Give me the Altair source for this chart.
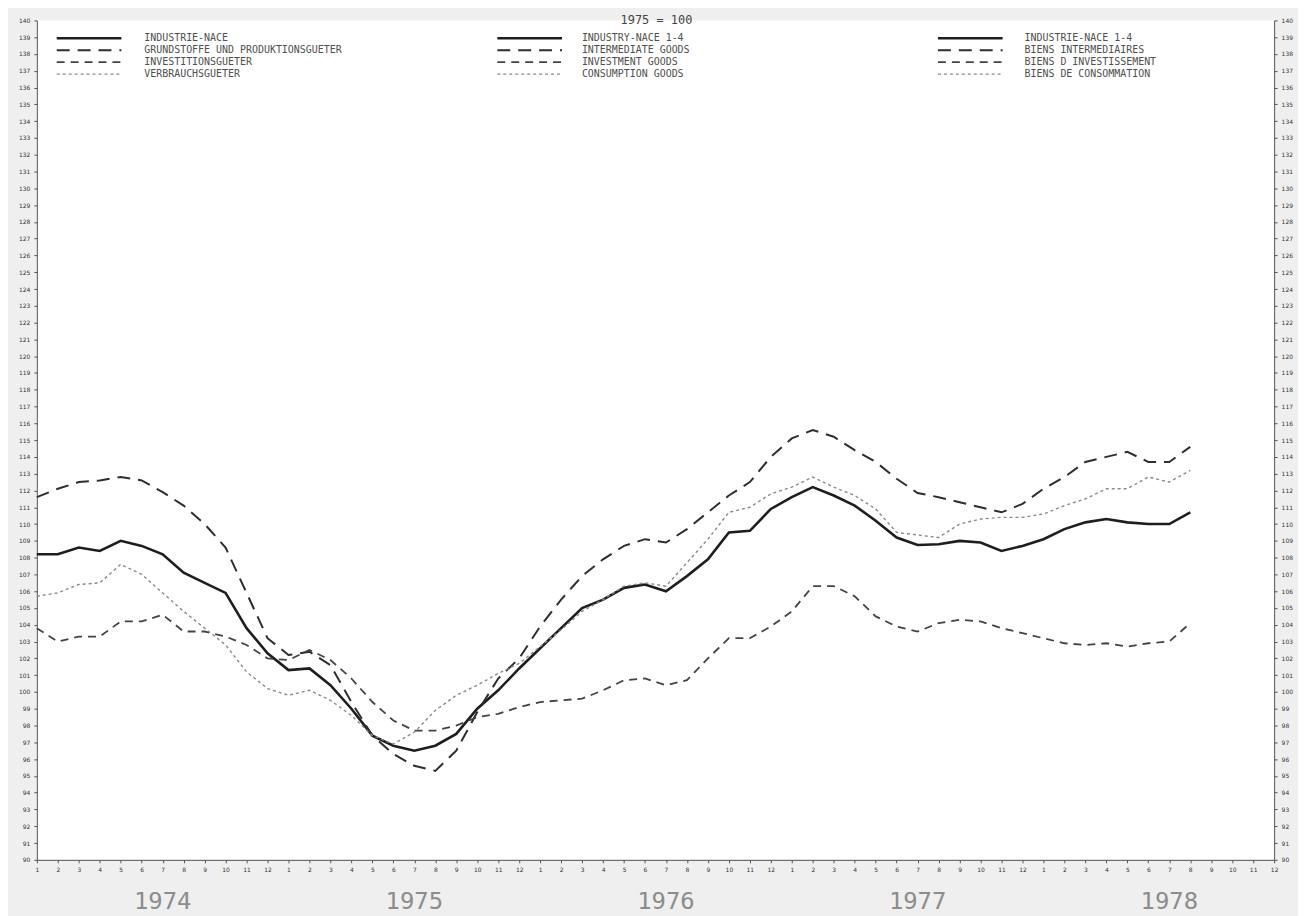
import altair as alt
import pandas as pd

# ---- data (monthly index, 1975 = 100), Jan 1974 .. Aug 1978 ----
years = ["1974", "1975", "1976", "1977", "1978"]
month_labels = [str(m) for m in range(1, 13)]

industry = [108.2, 108.2, 108.6, 108.4, 109.0, 108.7, 108.2, 107.1, 106.5, 105.9, 103.8, 102.3,
            101.3, 101.4, 100.4, 99.0, 97.4, 96.8, 96.5, 96.8, 97.5, 99.0, 100.1, 101.4,
            102.6, 103.8, 105.0, 105.5, 106.2, 106.4, 106.0, 106.9, 107.9, 109.5, 109.6, 110.9,
            111.6, 112.2, 111.7, 111.1, 110.2, 109.2, 108.75, 108.8, 109.0, 108.9, 108.4, 108.7,
            109.1, 109.7, 110.1, 110.3, 110.1, 110.0, 110.0, 110.7]
intermediate = [111.6, 112.1, 112.5, 112.6, 112.8, 112.6, 111.9, 111.1, 110.0, 108.6, 105.9, 103.2,
                102.2, 102.4, 101.6, 99.4, 97.4, 96.3, 95.6, 95.3, 96.5, 98.8, 100.8, 102.0,
                103.9, 105.5, 106.9, 107.9, 108.7, 109.1, 108.9, 109.7, 110.7, 111.7, 112.5, 114.0,
                115.1, 115.6, 115.2, 114.4, 113.7, 112.7, 111.85, 111.6, 111.3, 111.0, 110.7, 111.2,
                112.1, 112.8, 113.7, 114.0, 114.3, 113.7, 113.7, 114.6]
investment = [103.8, 103.0, 103.3, 103.3, 104.2, 104.2, 104.6, 103.6, 103.6, 103.3, 102.8, 102.0,
              101.9, 102.5, 101.9, 100.8, 99.4, 98.3, 97.7, 97.7, 98.0, 98.5, 98.7, 99.1,
              99.4, 99.5, 99.6, 100.1, 100.7, 100.8, 100.4, 100.7, 102.0, 103.2, 103.2, 103.9,
              104.8, 106.3, 106.3, 105.7, 104.5, 103.9, 103.6, 104.1, 104.3, 104.2, 103.8, 103.5,
              103.2, 102.9, 102.8, 102.9, 102.7, 102.9, 103.0, 104.1]
consumption = [105.7, 105.9, 106.4, 106.5, 107.6, 107.0, 105.9, 104.8, 103.8, 102.8, 101.2, 100.2,
               99.8, 100.1, 99.5, 98.6, 97.4, 96.9, 97.6, 98.9, 99.8, 100.4, 101.1, 101.7,
               102.7, 103.7, 104.8, 105.5, 106.3, 106.5, 106.3, 107.7, 109.1, 110.7, 111.0, 111.8,
               112.2, 112.8, 112.2, 111.7, 110.9, 109.5, 109.35, 109.2, 110.0, 110.3, 110.4, 110.4,
               110.6, 111.1, 111.5, 112.1, 112.1, 112.8, 112.5, 113.2]

legend_de = ["INDUSTRIE-NACE", "GRUNDSTOFFE UND PRODUKTIONSGUETER", "INVESTITIONSGUETER", "VERBRAUCHSGUETER"]
legend_en = ["INDUSTRY-NACE 1-4", "INTERMEDIATE GOODS", "INVESTMENT GOODS", "CONSUMPTION GOODS"]
legend_fr = ["INDUSTRIE-NACE 1-4", "BIENS INTERMEDIAIRES", "BIENS D INVESTISSEMENT", "BIENS DE CONSOMMATION"]
subtitle = "1975 = 100"

W, H = 1244, 844
FONT = "DejaVu Sans Mono"

series = [
    ("industry", industry, dict(color="#1e1e1e", strokeWidth=2.6)),
    ("intermediate", intermediate, dict(color="#2e2e2e", strokeWidth=2.0, strokeDash=[13, 8])),
    ("investment", investment, dict(color="#444444", strokeWidth=1.8, strokeDash=[8, 6])),
    ("consumption", consumption, dict(color="#8a8a8a", strokeWidth=1.4, strokeDash=[3, 3])),
]

xscale = alt.Scale(domain=[0, 59], nice=False, zero=False)
yscale = alt.Scale(domain=[90, 140], nice=False, zero=False)

xaxis = alt.Axis(values=list(range(60)), labelExpr="(datum.value % 12) + 1", labelFontSize=6,
                 labelOverlap=False, labelFlush=False, tickSize=3, grid=False, title=None,
                 labelColor="#333", domainColor="#555", tickColor="#555", labelPadding=4)

def yaxis(orient):
    return alt.Axis(values=list(range(90, 141)), labelFontSize=6, labelOverlap=False, tickSize=3,
                    grid=False, title=None, labelColor="#333", domainColor="#555",
                    tickColor="#555", orient=orient, labelPadding=4, labelFlush=False)

layers = []
for k, (name, vals, style) in enumerate(series):
    df = pd.DataFrame({"t": list(range(len(vals))), "v": vals})
    if k == 0:
        ych = alt.Y("v:Q", scale=yscale, axis=yaxis("left"))
    elif k == 1:
        ych = alt.Y("v:Q", scale=yscale, axis=yaxis("right"))
    else:
        ych = alt.Y("v:Q", scale=yscale, axis=None)
    xch = alt.X("t:Q", scale=xscale, axis=xaxis)
    layers.append(alt.Chart(df).mark_line(**style).encode(x=xch, y=ych))

# year labels under the month ticks
year_df = pd.DataFrame({"yi": [6, 18, 30, 42, 54], "year": years})
layers.append(
    alt.Chart(year_df).mark_text(font=FONT, fontSize=24, color="#8c8c8c", baseline="middle")
    .encode(x=alt.X("yi:Q", scale=xscale, axis=xaxis), y=alt.value(H + 42), text="year:N")
)

# legend samples (pixel layout)
leg_cols = [(20, 85), (463, 528), (906, 971)]
leg_rows = [18, 30, 42, 54]
for r, (name, vals, style) in enumerate(series):
    sdf = pd.DataFrame({"lx": [c[0] for c in leg_cols], "lx2": [c[1] for c in leg_cols],
                        "ly": [leg_rows[r]] * 3})
    layers.append(
        alt.Chart(sdf).mark_rule(**style).encode(
            x=alt.X("lx:Q", scale=None, axis=None), x2="lx2:Q",
            y=alt.Y("ly:Q", scale=None, axis=None))
    )

text_x = [108, 548, 993]
rows = []
for c, labels in enumerate([legend_de, legend_en, legend_fr]):
    for r, lab in enumerate(labels):
        rows.append({"tx": text_x[c], "ty": leg_rows[r], "lab": lab})
tdf = pd.DataFrame(rows)
layers.append(
    alt.Chart(tdf).mark_text(font=FONT, fontSize=10, color="#505050", align="left", baseline="middle")
    .encode(x=alt.X("tx:Q", scale=None, axis=None), y=alt.Y("ty:Q", scale=None, axis=None), text="lab:N")
)

sub_df = pd.DataFrame({"sx": [623], "sy": [0], "s": [subtitle]})
layers.append(
    alt.Chart(sub_df).mark_text(font=FONT, fontSize=12, color="#444", align="center", baseline="middle")
    .encode(x=alt.X("sx:Q", scale=None, axis=None), y=alt.Y("sy:Q", scale=None, axis=None), text="s:N")
)

chart = (
    alt.layer(*layers)
    .resolve_scale(y="shared", x="shared")
    .resolve_axis(y="independent")
    .properties(width=W, height=H, background="#efefef",
                autosize=alt.AutoSizeParams(type="none"),
                padding={"left": 29, "top": 10, "right": 24, "bottom": 54})
    .configure_view(fill="white", stroke=None)
    .configure_axis(labelFont="DejaVu Sans")
)

chart.save("out.html", embed_options={"renderer": "svg", "actions": False})
